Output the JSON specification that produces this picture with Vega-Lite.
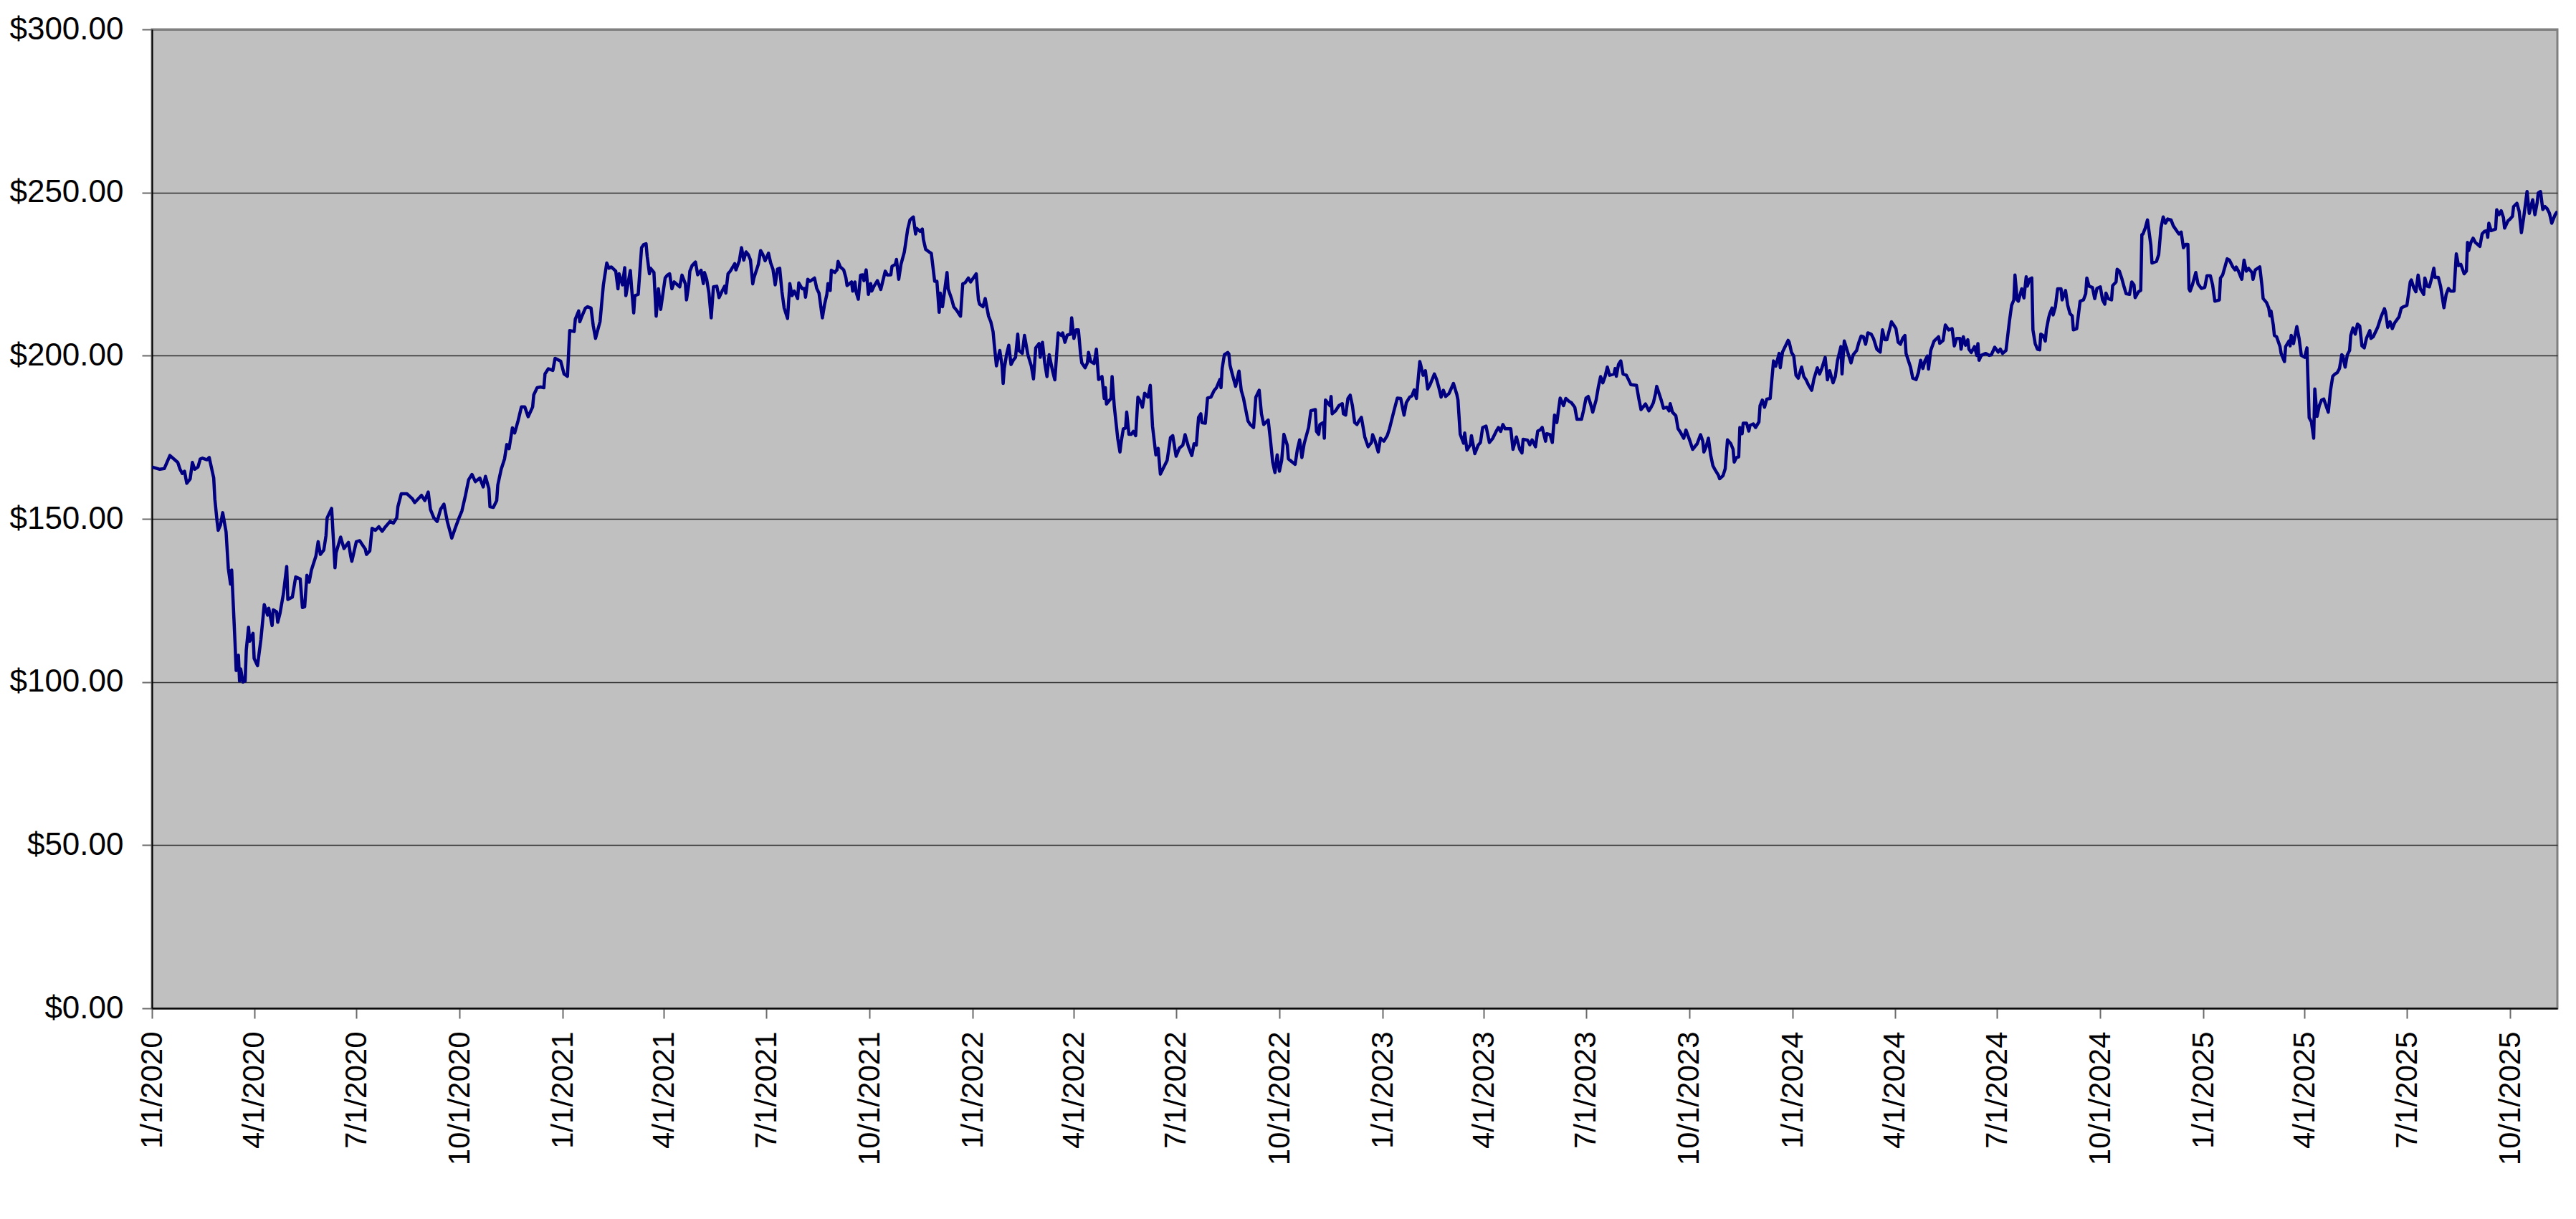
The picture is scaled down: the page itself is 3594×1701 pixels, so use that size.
{
  "$schema": "https://vega.github.io/schema/vega-lite/v6.json",
  "width": 3356,
  "height": 1366,
  "autosize": {"type": "none"},
  "padding": {"left": 212, "top": 41, "right": 26, "bottom": 294},
  "background": "#ffffff",
  "config": {
    "view": {"fill": "#C0C0C0", "stroke": "#808080", "strokeWidth": 3},
    "font": "Liberation Sans"
  },
  "data": {
    "values": [
      {"date": "2020-01-01", "price": 165.9}, {"date": "2020-01-08", "price": 165.2}, {"date": "2020-01-12", "price": 165.4},
      {"date": "2020-01-17", "price": 169.4}, {"date": "2020-01-24", "price": 167.3}, {"date": "2020-01-26", "price": 165.2},
      {"date": "2020-01-28", "price": 163.9}, {"date": "2020-01-30", "price": 164.6}, {"date": "2020-02-01", "price": 160.9},
      {"date": "2020-02-04", "price": 162.2}, {"date": "2020-02-06", "price": 167.3}, {"date": "2020-02-08", "price": 165.2},
      {"date": "2020-02-11", "price": 165.9}, {"date": "2020-02-13", "price": 168.3}, {"date": "2020-02-15", "price": 168.6},
      {"date": "2020-02-19", "price": 168.1}, {"date": "2020-02-21", "price": 168.8}, {"date": "2020-02-25", "price": 162.5},
      {"date": "2020-02-26", "price": 156.1}, {"date": "2020-02-28", "price": 149.2}, {"date": "2020-02-29", "price": 146.5},
      {"date": "2020-03-02", "price": 148.1}, {"date": "2020-03-04", "price": 151.9}, {"date": "2020-03-07", "price": 146.0},
      {"date": "2020-03-09", "price": 134.8}, {"date": "2020-03-11", "price": 130.0}, {"date": "2020-03-12", "price": 134.3},
      {"date": "2020-03-14", "price": 119.4}, {"date": "2020-03-15", "price": 111.9}, {"date": "2020-03-16", "price": 103.5},
      {"date": "2020-03-18", "price": 108.2}, {"date": "2020-03-19", "price": 100.3}, {"date": "2020-03-20", "price": 104.0},
      {"date": "2020-03-22", "price": 100.0}, {"date": "2020-03-24", "price": 100.3}, {"date": "2020-03-25", "price": 109.8},
      {"date": "2020-03-27", "price": 116.8}, {"date": "2020-03-28", "price": 112.5}, {"date": "2020-03-31", "price": 114.9},
      {"date": "2020-04-01", "price": 107.2}, {"date": "2020-04-04", "price": 105.0}, {"date": "2020-04-07", "price": 113.0},
      {"date": "2020-04-10", "price": 123.7}, {"date": "2020-04-13", "price": 120.5}, {"date": "2020-04-14", "price": 122.6},
      {"date": "2020-04-17", "price": 117.3}, {"date": "2020-04-18", "price": 122.1}, {"date": "2020-04-21", "price": 121.5},
      {"date": "2020-04-22", "price": 118.3}, {"date": "2020-04-24", "price": 121.0}, {"date": "2020-04-27", "price": 126.9},
      {"date": "2020-04-30", "price": 135.4}, {"date": "2020-05-01", "price": 125.3}, {"date": "2020-05-05", "price": 126.0},
      {"date": "2020-05-08", "price": 132.2}, {"date": "2020-05-12", "price": 131.6}, {"date": "2020-05-14", "price": 122.8},
      {"date": "2020-05-16", "price": 123.1}, {"date": "2020-05-18", "price": 132.7}, {"date": "2020-05-20", "price": 130.6},
      {"date": "2020-05-22", "price": 134.3}, {"date": "2020-05-26", "price": 138.6}, {"date": "2020-05-28", "price": 143.0},
      {"date": "2020-05-30", "price": 139.1}, {"date": "2020-06-02", "price": 140.4}, {"date": "2020-06-04", "price": 144.9},
      {"date": "2020-06-05", "price": 150.3}, {"date": "2020-06-09", "price": 153.2}, {"date": "2020-06-12", "price": 135.0},
      {"date": "2020-06-13", "price": 139.6}, {"date": "2020-06-17", "price": 144.4}, {"date": "2020-06-20", "price": 140.9},
      {"date": "2020-06-24", "price": 142.8}, {"date": "2020-06-26", "price": 138.6}, {"date": "2020-06-27", "price": 137.0},
      {"date": "2020-07-01", "price": 143.0}, {"date": "2020-07-04", "price": 143.3}, {"date": "2020-07-09", "price": 140.7},
      {"date": "2020-07-10", "price": 139.1}, {"date": "2020-07-13", "price": 140.2}, {"date": "2020-07-15", "price": 147.1},
      {"date": "2020-07-18", "price": 146.5}, {"date": "2020-07-21", "price": 147.6}, {"date": "2020-07-24", "price": 146.2},
      {"date": "2020-07-27", "price": 147.6}, {"date": "2020-07-31", "price": 149.2}, {"date": "2020-08-03", "price": 148.7},
      {"date": "2020-08-06", "price": 150.3}, {"date": "2020-08-07", "price": 153.7}, {"date": "2020-08-10", "price": 157.7},
      {"date": "2020-08-15", "price": 157.7}, {"date": "2020-08-20", "price": 156.1}, {"date": "2020-08-22", "price": 155.0},
      {"date": "2020-08-25", "price": 156.1}, {"date": "2020-08-28", "price": 157.2}, {"date": "2020-08-31", "price": 155.6},
      {"date": "2020-09-03", "price": 158.2}, {"date": "2020-09-05", "price": 152.9}, {"date": "2020-09-08", "price": 150.3},
      {"date": "2020-09-11", "price": 149.2}, {"date": "2020-09-14", "price": 152.9}, {"date": "2020-09-17", "price": 154.5},
      {"date": "2020-09-20", "price": 149.2}, {"date": "2020-09-24", "price": 144.1}, {"date": "2020-09-27", "price": 147.1},
      {"date": "2020-09-30", "price": 149.9}, {"date": "2020-10-03", "price": 152.4}, {"date": "2020-10-06", "price": 156.9},
      {"date": "2020-10-09", "price": 162.0}, {"date": "2020-10-12", "price": 163.6}, {"date": "2020-10-15", "price": 161.4},
      {"date": "2020-10-19", "price": 162.5}, {"date": "2020-10-22", "price": 159.8}, {"date": "2020-10-24", "price": 163.0},
      {"date": "2020-10-27", "price": 159.3}, {"date": "2020-10-28", "price": 153.7}, {"date": "2020-10-31", "price": 153.5},
      {"date": "2020-11-03", "price": 155.6}, {"date": "2020-11-04", "price": 160.4}, {"date": "2020-11-07", "price": 165.2},
      {"date": "2020-11-10", "price": 168.4}, {"date": "2020-11-12", "price": 172.8}, {"date": "2020-11-14", "price": 171.5},
      {"date": "2020-11-17", "price": 177.9}, {"date": "2020-11-19", "price": 176.3}, {"date": "2020-11-22", "price": 180.0},
      {"date": "2020-11-25", "price": 184.3}, {"date": "2020-11-28", "price": 184.3}, {"date": "2020-12-01", "price": 181.3},
      {"date": "2020-12-05", "price": 184.3}, {"date": "2020-12-06", "price": 188.0}, {"date": "2020-12-09", "price": 190.2},
      {"date": "2020-12-12", "price": 190.4}, {"date": "2020-12-15", "price": 190.2}, {"date": "2020-12-16", "price": 194.4},
      {"date": "2020-12-19", "price": 196.0}, {"date": "2020-12-23", "price": 195.5}, {"date": "2020-12-25", "price": 199.2},
      {"date": "2020-12-30", "price": 198.3}, {"date": "2021-01-02", "price": 194.4}, {"date": "2021-01-05", "price": 193.7},
      {"date": "2021-01-07", "price": 207.7}, {"date": "2021-01-11", "price": 207.4}, {"date": "2021-01-12", "price": 211.2},
      {"date": "2021-01-15", "price": 213.7}, {"date": "2021-01-16", "price": 210.4}, {"date": "2021-01-18", "price": 212.2},
      {"date": "2021-01-21", "price": 214.6}, {"date": "2021-01-23", "price": 215.0}, {"date": "2021-01-26", "price": 214.6},
      {"date": "2021-01-28", "price": 209.1}, {"date": "2021-01-30", "price": 205.3}, {"date": "2021-02-01", "price": 207.9},
      {"date": "2021-02-03", "price": 210.4}, {"date": "2021-02-04", "price": 214.2}, {"date": "2021-02-06", "price": 221.7},
      {"date": "2021-02-09", "price": 228.4}, {"date": "2021-02-11", "price": 226.8}, {"date": "2021-02-13", "price": 227.2},
      {"date": "2021-02-17", "price": 225.9}, {"date": "2021-02-19", "price": 220.5}, {"date": "2021-02-20", "price": 225.1},
      {"date": "2021-02-23", "price": 221.7}, {"date": "2021-02-25", "price": 227.0}, {"date": "2021-02-26", "price": 218.4},
      {"date": "2021-03-02", "price": 226.1}, {"date": "2021-03-03", "price": 221.3}, {"date": "2021-03-05", "price": 213.1},
      {"date": "2021-03-06", "price": 218.4}, {"date": "2021-03-09", "price": 218.8}, {"date": "2021-03-12", "price": 233.1},
      {"date": "2021-03-14", "price": 234.1}, {"date": "2021-03-16", "price": 234.3}, {"date": "2021-03-17", "price": 230.5},
      {"date": "2021-03-19", "price": 225.1}, {"date": "2021-03-20", "price": 226.8}, {"date": "2021-03-23", "price": 225.5},
      {"date": "2021-03-25", "price": 212.1}, {"date": "2021-03-27", "price": 220.5}, {"date": "2021-03-29", "price": 214.2},
      {"date": "2021-04-02", "price": 223.8}, {"date": "2021-04-04", "price": 224.7}, {"date": "2021-04-06", "price": 225.1},
      {"date": "2021-04-08", "price": 220.5}, {"date": "2021-04-10", "price": 222.6}, {"date": "2021-04-15", "price": 221.1},
      {"date": "2021-04-17", "price": 224.7}, {"date": "2021-04-20", "price": 222.0}, {"date": "2021-04-21", "price": 217.1},
      {"date": "2021-04-23", "price": 221.7}, {"date": "2021-04-24", "price": 225.9}, {"date": "2021-04-26", "price": 227.6},
      {"date": "2021-04-29", "price": 228.7}, {"date": "2021-05-01", "price": 224.8}, {"date": "2021-05-04", "price": 226.2},
      {"date": "2021-05-06", "price": 222.1}, {"date": "2021-05-07", "price": 225.5}, {"date": "2021-05-09", "price": 223.4},
      {"date": "2021-05-11", "price": 219.2}, {"date": "2021-05-13", "price": 211.6}, {"date": "2021-05-15", "price": 221.1},
      {"date": "2021-05-18", "price": 221.3}, {"date": "2021-05-20", "price": 217.8}, {"date": "2021-05-23", "price": 220.0},
      {"date": "2021-05-25", "price": 221.3}, {"date": "2021-05-26", "price": 219.2}, {"date": "2021-05-28", "price": 225.1},
      {"date": "2021-05-30", "price": 225.9}, {"date": "2021-06-03", "price": 228.2}, {"date": "2021-06-04", "price": 226.3},
      {"date": "2021-06-07", "price": 229.0}, {"date": "2021-06-09", "price": 233.1}, {"date": "2021-06-11", "price": 229.3},
      {"date": "2021-06-13", "price": 231.8}, {"date": "2021-06-15", "price": 231.0}, {"date": "2021-06-17", "price": 229.3},
      {"date": "2021-06-19", "price": 222.0}, {"date": "2021-06-20", "price": 223.8}, {"date": "2021-06-24", "price": 228.0},
      {"date": "2021-06-26", "price": 232.2}, {"date": "2021-06-28", "price": 231.0}, {"date": "2021-06-30", "price": 229.1},
      {"date": "2021-07-03", "price": 231.4}, {"date": "2021-07-05", "price": 228.4}, {"date": "2021-07-07", "price": 226.5},
      {"date": "2021-07-09", "price": 221.7}, {"date": "2021-07-11", "price": 226.5}, {"date": "2021-07-13", "price": 226.8},
      {"date": "2021-07-15", "price": 219.6}, {"date": "2021-07-17", "price": 214.6}, {"date": "2021-07-20", "price": 211.4},
      {"date": "2021-07-22", "price": 222.1}, {"date": "2021-07-24", "price": 218.4}, {"date": "2021-07-26", "price": 219.8},
      {"date": "2021-07-29", "price": 217.5}, {"date": "2021-07-30", "price": 222.3}, {"date": "2021-08-02", "price": 220.5},
      {"date": "2021-08-04", "price": 220.6}, {"date": "2021-08-05", "price": 217.9}, {"date": "2021-08-07", "price": 223.4},
      {"date": "2021-08-09", "price": 222.8}, {"date": "2021-08-13", "price": 223.8}, {"date": "2021-08-15", "price": 220.6},
      {"date": "2021-08-17", "price": 219.2}, {"date": "2021-08-20", "price": 211.6}, {"date": "2021-08-22", "price": 215.8},
      {"date": "2021-08-24", "price": 218.8}, {"date": "2021-08-25", "price": 222.1}, {"date": "2021-08-27", "price": 220.0},
      {"date": "2021-08-28", "price": 226.2}, {"date": "2021-08-31", "price": 225.5}, {"date": "2021-09-02", "price": 226.3},
      {"date": "2021-09-03", "price": 228.9}, {"date": "2021-09-05", "price": 227.2}, {"date": "2021-09-08", "price": 226.3},
      {"date": "2021-09-10", "price": 223.8}, {"date": "2021-09-11", "price": 221.5}, {"date": "2021-09-15", "price": 222.6},
      {"date": "2021-09-16", "price": 219.8}, {"date": "2021-09-18", "price": 222.6}, {"date": "2021-09-19", "price": 219.6},
      {"date": "2021-09-21", "price": 217.3}, {"date": "2021-09-23", "price": 224.7}, {"date": "2021-09-25", "price": 224.8},
      {"date": "2021-09-26", "price": 223.0}, {"date": "2021-09-28", "price": 226.3}, {"date": "2021-09-30", "price": 218.8},
      {"date": "2021-10-02", "price": 222.1}, {"date": "2021-10-03", "price": 219.8}, {"date": "2021-10-05", "price": 221.3},
      {"date": "2021-10-08", "price": 223.0}, {"date": "2021-10-11", "price": 220.3}, {"date": "2021-10-15", "price": 225.9},
      {"date": "2021-10-17", "price": 224.7}, {"date": "2021-10-20", "price": 224.8}, {"date": "2021-10-21", "price": 227.4},
      {"date": "2021-10-24", "price": 228.0}, {"date": "2021-10-25", "price": 229.5}, {"date": "2021-10-27", "price": 223.4},
      {"date": "2021-10-29", "price": 228.0}, {"date": "2021-11-01", "price": 231.8}, {"date": "2021-11-02", "price": 234.1},
      {"date": "2021-11-04", "price": 238.8}, {"date": "2021-11-06", "price": 241.6}, {"date": "2021-11-09", "price": 242.5},
      {"date": "2021-11-11", "price": 237.3}, {"date": "2021-11-12", "price": 239.0}, {"date": "2021-11-15", "price": 238.1},
      {"date": "2021-11-17", "price": 238.8}, {"date": "2021-11-18", "price": 235.6}, {"date": "2021-11-20", "price": 232.6},
      {"date": "2021-11-23", "price": 231.8}, {"date": "2021-11-25", "price": 231.4}, {"date": "2021-11-28", "price": 222.8},
      {"date": "2021-11-30", "price": 222.8}, {"date": "2021-12-02", "price": 213.3}, {"date": "2021-12-03", "price": 219.2},
      {"date": "2021-12-05", "price": 215.0}, {"date": "2021-12-09", "price": 225.5}, {"date": "2021-12-10", "price": 220.5},
      {"date": "2021-12-13", "price": 217.5}, {"date": "2021-12-15", "price": 215.0}, {"date": "2021-12-18", "price": 213.7},
      {"date": "2021-12-21", "price": 212.1}, {"date": "2021-12-23", "price": 222.0}, {"date": "2021-12-25", "price": 222.3},
      {"date": "2021-12-28", "price": 223.8}, {"date": "2021-12-30", "price": 222.6}, {"date": "2022-01-04", "price": 225.1},
      {"date": "2022-01-06", "price": 217.1}, {"date": "2022-01-07", "price": 215.8}, {"date": "2022-01-10", "price": 215.0},
      {"date": "2022-01-12", "price": 217.5}, {"date": "2022-01-15", "price": 212.1}, {"date": "2022-01-17", "price": 210.4},
      {"date": "2022-01-19", "price": 207.4}, {"date": "2022-01-20", "price": 203.7}, {"date": "2022-01-22", "price": 196.9},
      {"date": "2022-01-23", "price": 198.6}, {"date": "2022-01-25", "price": 201.6}, {"date": "2022-01-27", "price": 196.9},
      {"date": "2022-01-28", "price": 191.5}, {"date": "2022-01-29", "price": 196.1}, {"date": "2022-01-31", "price": 200.3},
      {"date": "2022-02-02", "price": 203.2}, {"date": "2022-02-04", "price": 197.3}, {"date": "2022-02-06", "price": 198.6},
      {"date": "2022-02-08", "price": 199.5}, {"date": "2022-02-10", "price": 206.6}, {"date": "2022-02-11", "price": 201.6},
      {"date": "2022-02-14", "price": 200.7}, {"date": "2022-02-16", "price": 206.2}, {"date": "2022-02-19", "price": 200.3},
      {"date": "2022-02-22", "price": 196.9}, {"date": "2022-02-24", "price": 192.9}, {"date": "2022-02-26", "price": 202.4},
      {"date": "2022-03-01", "price": 203.7}, {"date": "2022-03-02", "price": 199.5}, {"date": "2022-03-04", "price": 204.1},
      {"date": "2022-03-06", "price": 197.8}, {"date": "2022-03-08", "price": 193.6}, {"date": "2022-03-10", "price": 200.3},
      {"date": "2022-03-13", "price": 195.3}, {"date": "2022-03-15", "price": 192.6}, {"date": "2022-03-18", "price": 207.0},
      {"date": "2022-03-21", "price": 206.2}, {"date": "2022-03-22", "price": 207.0}, {"date": "2022-03-24", "price": 204.1},
      {"date": "2022-03-26", "price": 206.3}, {"date": "2022-03-29", "price": 206.6}, {"date": "2022-03-30", "price": 211.6},
      {"date": "2022-04-01", "price": 205.3}, {"date": "2022-04-03", "price": 207.9}, {"date": "2022-04-05", "price": 207.9},
      {"date": "2022-04-07", "price": 200.3}, {"date": "2022-04-08", "price": 197.8}, {"date": "2022-04-11", "price": 196.3},
      {"date": "2022-04-13", "price": 197.8}, {"date": "2022-04-14", "price": 201.0}, {"date": "2022-04-16", "price": 198.2},
      {"date": "2022-04-19", "price": 197.6}, {"date": "2022-04-21", "price": 202.0}, {"date": "2022-04-23", "price": 192.7},
      {"date": "2022-04-26", "price": 193.6}, {"date": "2022-04-28", "price": 186.9}, {"date": "2022-04-29", "price": 190.2},
      {"date": "2022-04-30", "price": 185.2}, {"date": "2022-05-04", "price": 186.9}, {"date": "2022-05-05", "price": 193.6},
      {"date": "2022-05-07", "price": 184.3}, {"date": "2022-05-10", "price": 174.7}, {"date": "2022-05-12", "price": 170.5},
      {"date": "2022-05-13", "price": 173.4}, {"date": "2022-05-15", "price": 177.6}, {"date": "2022-05-17", "price": 177.8},
      {"date": "2022-05-18", "price": 182.7}, {"date": "2022-05-20", "price": 175.9}, {"date": "2022-05-22", "price": 175.9},
      {"date": "2022-05-24", "price": 176.8}, {"date": "2022-05-26", "price": 175.5}, {"date": "2022-05-28", "price": 187.3},
      {"date": "2022-05-30", "price": 186.2}, {"date": "2022-06-01", "price": 184.2}, {"date": "2022-06-03", "price": 188.5},
      {"date": "2022-06-06", "price": 187.3}, {"date": "2022-06-08", "price": 190.9}, {"date": "2022-06-10", "price": 178.4},
      {"date": "2022-06-13", "price": 169.6}, {"date": "2022-06-15", "price": 171.6}, {"date": "2022-06-17", "price": 163.7},
      {"date": "2022-06-20", "price": 165.8}, {"date": "2022-06-23", "price": 167.9}, {"date": "2022-06-26", "price": 174.9},
      {"date": "2022-06-28", "price": 175.5}, {"date": "2022-07-01", "price": 169.2}, {"date": "2022-07-04", "price": 171.7},
      {"date": "2022-07-07", "price": 172.6}, {"date": "2022-07-09", "price": 175.8}, {"date": "2022-07-12", "price": 172.1},
      {"date": "2022-07-15", "price": 169.4}, {"date": "2022-07-17", "price": 173.0}, {"date": "2022-07-19", "price": 172.6},
      {"date": "2022-07-21", "price": 181.1}, {"date": "2022-07-23", "price": 182.2}, {"date": "2022-07-24", "price": 179.5},
      {"date": "2022-07-27", "price": 179.3}, {"date": "2022-07-29", "price": 187.0}, {"date": "2022-08-01", "price": 187.3},
      {"date": "2022-08-04", "price": 189.4}, {"date": "2022-08-06", "price": 190.2}, {"date": "2022-08-09", "price": 192.7},
      {"date": "2022-08-10", "price": 190.2}, {"date": "2022-08-11", "price": 196.1}, {"date": "2022-08-13", "price": 200.3},
      {"date": "2022-08-16", "price": 201.0}, {"date": "2022-08-17", "price": 200.5}, {"date": "2022-08-18", "price": 197.1},
      {"date": "2022-08-20", "price": 194.4}, {"date": "2022-08-23", "price": 190.6}, {"date": "2022-08-26", "price": 195.3},
      {"date": "2022-08-28", "price": 189.4}, {"date": "2022-08-30", "price": 187.0}, {"date": "2022-08-31", "price": 185.2},
      {"date": "2022-09-03", "price": 180.0}, {"date": "2022-09-05", "price": 178.9}, {"date": "2022-09-08", "price": 178.0},
      {"date": "2022-09-10", "price": 187.3}, {"date": "2022-09-13", "price": 189.4}, {"date": "2022-09-15", "price": 182.2},
      {"date": "2022-09-17", "price": 178.9}, {"date": "2022-09-21", "price": 180.3}, {"date": "2022-09-23", "price": 174.2},
      {"date": "2022-09-25", "price": 167.4}, {"date": "2022-09-27", "price": 164.2}, {"date": "2022-09-29", "price": 169.6},
      {"date": "2022-10-01", "price": 164.6}, {"date": "2022-10-03", "price": 167.9}, {"date": "2022-10-05", "price": 175.9},
      {"date": "2022-10-08", "price": 172.6}, {"date": "2022-10-09", "price": 168.4}, {"date": "2022-10-12", "price": 167.5},
      {"date": "2022-10-15", "price": 166.7}, {"date": "2022-10-17", "price": 171.3}, {"date": "2022-10-19", "price": 174.2},
      {"date": "2022-10-21", "price": 168.8}, {"date": "2022-10-23", "price": 173.0}, {"date": "2022-10-27", "price": 178.0},
      {"date": "2022-10-29", "price": 183.1}, {"date": "2022-11-02", "price": 183.5}, {"date": "2022-11-03", "price": 176.8},
      {"date": "2022-11-05", "price": 175.9}, {"date": "2022-11-06", "price": 178.9}, {"date": "2022-11-09", "price": 179.5},
      {"date": "2022-11-10", "price": 174.7}, {"date": "2022-11-11", "price": 186.4}, {"date": "2022-11-15", "price": 184.7},
      {"date": "2022-11-16", "price": 187.5}, {"date": "2022-11-17", "price": 182.2}, {"date": "2022-11-20", "price": 183.1},
      {"date": "2022-11-23", "price": 184.7}, {"date": "2022-11-26", "price": 185.3}, {"date": "2022-11-27", "price": 182.2},
      {"date": "2022-11-29", "price": 181.8}, {"date": "2022-12-01", "price": 186.9}, {"date": "2022-12-03", "price": 187.9},
      {"date": "2022-12-05", "price": 184.7}, {"date": "2022-12-07", "price": 179.5}, {"date": "2022-12-09", "price": 178.9},
      {"date": "2022-12-11", "price": 180.1}, {"date": "2022-12-13", "price": 181.1}, {"date": "2022-12-16", "price": 175.1},
      {"date": "2022-12-19", "price": 172.1}, {"date": "2022-12-22", "price": 173.4}, {"date": "2022-12-23", "price": 175.8},
      {"date": "2022-12-25", "price": 174.1}, {"date": "2022-12-28", "price": 170.5}, {"date": "2022-12-30", "price": 174.7},
      {"date": "2023-01-02", "price": 173.8}, {"date": "2023-01-05", "price": 175.5}, {"date": "2023-01-07", "price": 177.6},
      {"date": "2023-01-11", "price": 183.1}, {"date": "2023-01-14", "price": 187.0}, {"date": "2023-01-17", "price": 186.9},
      {"date": "2023-01-20", "price": 181.8}, {"date": "2023-01-22", "price": 185.6}, {"date": "2023-01-25", "price": 187.3},
      {"date": "2023-01-27", "price": 187.7}, {"date": "2023-01-29", "price": 189.5}, {"date": "2023-01-31", "price": 186.9},
      {"date": "2023-02-03", "price": 198.2}, {"date": "2023-02-04", "price": 196.9}, {"date": "2023-02-06", "price": 194.0},
      {"date": "2023-02-08", "price": 195.4}, {"date": "2023-02-10", "price": 189.8}, {"date": "2023-02-12", "price": 191.0},
      {"date": "2023-02-14", "price": 192.7}, {"date": "2023-02-16", "price": 194.4}, {"date": "2023-02-18", "price": 192.7},
      {"date": "2023-02-20", "price": 190.2}, {"date": "2023-02-22", "price": 187.3}, {"date": "2023-02-24", "price": 189.4},
      {"date": "2023-02-26", "price": 187.5}, {"date": "2023-03-01", "price": 188.4}, {"date": "2023-03-05", "price": 191.5},
      {"date": "2023-03-08", "price": 188.1}, {"date": "2023-03-09", "price": 186.4}, {"date": "2023-03-11", "price": 175.9},
      {"date": "2023-03-14", "price": 173.2}, {"date": "2023-03-15", "price": 176.3}, {"date": "2023-03-17", "price": 171.1},
      {"date": "2023-03-20", "price": 172.7}, {"date": "2023-03-21", "price": 175.5}, {"date": "2023-03-24", "price": 170.0},
      {"date": "2023-03-27", "price": 172.6}, {"date": "2023-03-29", "price": 173.4}, {"date": "2023-03-31", "price": 178.0},
      {"date": "2023-04-03", "price": 178.4}, {"date": "2023-04-06", "price": 173.4}, {"date": "2023-04-09", "price": 174.7},
      {"date": "2023-04-12", "price": 176.8}, {"date": "2023-04-14", "price": 178.0}, {"date": "2023-04-16", "price": 176.8},
      {"date": "2023-04-18", "price": 178.9}, {"date": "2023-04-20", "price": 177.6}, {"date": "2023-04-25", "price": 177.6},
      {"date": "2023-04-27", "price": 171.3}, {"date": "2023-04-30", "price": 175.1}, {"date": "2023-05-03", "price": 171.3},
      {"date": "2023-05-05", "price": 170.2}, {"date": "2023-05-06", "price": 174.4}, {"date": "2023-05-10", "price": 174.1},
      {"date": "2023-05-12", "price": 172.7}, {"date": "2023-05-14", "price": 174.2}, {"date": "2023-05-17", "price": 172.1},
      {"date": "2023-05-19", "price": 176.9}, {"date": "2023-05-21", "price": 177.2}, {"date": "2023-05-23", "price": 178.0},
      {"date": "2023-05-26", "price": 173.8}, {"date": "2023-05-27", "price": 176.1}, {"date": "2023-05-30", "price": 175.8},
      {"date": "2023-06-01", "price": 173.4}, {"date": "2023-06-03", "price": 181.8}, {"date": "2023-06-05", "price": 179.5},
      {"date": "2023-06-08", "price": 187.0}, {"date": "2023-06-11", "price": 184.7}, {"date": "2023-06-13", "price": 186.9},
      {"date": "2023-06-16", "price": 186.0}, {"date": "2023-06-18", "price": 185.6}, {"date": "2023-06-21", "price": 184.2},
      {"date": "2023-06-23", "price": 180.5}, {"date": "2023-06-27", "price": 180.5}, {"date": "2023-06-29", "price": 183.5},
      {"date": "2023-07-01", "price": 187.0}, {"date": "2023-07-03", "price": 187.5}, {"date": "2023-07-05", "price": 185.3},
      {"date": "2023-07-07", "price": 182.7}, {"date": "2023-07-10", "price": 186.4}, {"date": "2023-07-12", "price": 190.4},
      {"date": "2023-07-14", "price": 193.6}, {"date": "2023-07-16", "price": 191.7}, {"date": "2023-07-18", "price": 193.6},
      {"date": "2023-07-20", "price": 196.5}, {"date": "2023-07-22", "price": 194.0}, {"date": "2023-07-26", "price": 194.4},
      {"date": "2023-07-27", "price": 196.1}, {"date": "2023-07-28", "price": 193.7}, {"date": "2023-07-30", "price": 197.4},
      {"date": "2023-08-01", "price": 198.4}, {"date": "2023-08-03", "price": 194.4}, {"date": "2023-08-06", "price": 194.0},
      {"date": "2023-08-10", "price": 191.1}, {"date": "2023-08-15", "price": 190.9}, {"date": "2023-08-17", "price": 186.9},
      {"date": "2023-08-19", "price": 183.5}, {"date": "2023-08-23", "price": 185.2}, {"date": "2023-08-26", "price": 183.1},
      {"date": "2023-08-28", "price": 184.2}, {"date": "2023-08-30", "price": 185.6}, {"date": "2023-09-01", "price": 188.5},
      {"date": "2023-09-02", "price": 190.6}, {"date": "2023-09-04", "price": 188.5}, {"date": "2023-09-06", "price": 186.4},
      {"date": "2023-09-08", "price": 183.9}, {"date": "2023-09-11", "price": 184.2}, {"date": "2023-09-13", "price": 183.1},
      {"date": "2023-09-14", "price": 185.3}, {"date": "2023-09-16", "price": 182.7}, {"date": "2023-09-19", "price": 181.6},
      {"date": "2023-09-21", "price": 177.6}, {"date": "2023-09-23", "price": 176.6}, {"date": "2023-09-26", "price": 174.7},
      {"date": "2023-09-28", "price": 177.2}, {"date": "2023-10-01", "price": 174.4}, {"date": "2023-10-02", "price": 173.4},
      {"date": "2023-10-04", "price": 171.3}, {"date": "2023-10-08", "price": 173.0}, {"date": "2023-10-11", "price": 175.8},
      {"date": "2023-10-13", "price": 173.8}, {"date": "2023-10-14", "price": 170.5}, {"date": "2023-10-16", "price": 172.1},
      {"date": "2023-10-18", "price": 174.7}, {"date": "2023-10-20", "price": 169.6}, {"date": "2023-10-22", "price": 166.3},
      {"date": "2023-10-24", "price": 165.0}, {"date": "2023-10-27", "price": 163.3}, {"date": "2023-10-28", "price": 162.3},
      {"date": "2023-10-31", "price": 163.2}, {"date": "2023-11-02", "price": 165.4}, {"date": "2023-11-04", "price": 174.2},
      {"date": "2023-11-07", "price": 173.0}, {"date": "2023-11-09", "price": 171.3}, {"date": "2023-11-10", "price": 167.4},
      {"date": "2023-11-12", "price": 168.8}, {"date": "2023-11-14", "price": 169.0}, {"date": "2023-11-15", "price": 178.0},
      {"date": "2023-11-17", "price": 176.1}, {"date": "2023-11-18", "price": 179.3}, {"date": "2023-11-21", "price": 179.3},
      {"date": "2023-11-23", "price": 176.9}, {"date": "2023-11-24", "price": 178.6}, {"date": "2023-11-27", "price": 179.1},
      {"date": "2023-11-29", "price": 178.0}, {"date": "2023-12-02", "price": 179.7}, {"date": "2023-12-03", "price": 184.7},
      {"date": "2023-12-05", "price": 186.4}, {"date": "2023-12-07", "price": 184.2}, {"date": "2023-12-09", "price": 186.7},
      {"date": "2023-12-12", "price": 186.9}, {"date": "2023-12-15", "price": 198.4}, {"date": "2023-12-17", "price": 196.8},
      {"date": "2023-12-20", "price": 200.7}, {"date": "2023-12-21", "price": 196.3}, {"date": "2023-12-23", "price": 201.1},
      {"date": "2023-12-28", "price": 204.7}, {"date": "2023-12-29", "price": 204.1}, {"date": "2023-12-31", "price": 201.0},
      {"date": "2024-01-02", "price": 199.9}, {"date": "2024-01-04", "price": 194.0}, {"date": "2024-01-06", "price": 193.1},
      {"date": "2024-01-09", "price": 196.5}, {"date": "2024-01-11", "price": 193.6}, {"date": "2024-01-13", "price": 192.6},
      {"date": "2024-01-15", "price": 191.1}, {"date": "2024-01-18", "price": 189.4}, {"date": "2024-01-20", "price": 192.9},
      {"date": "2024-01-23", "price": 196.3}, {"date": "2024-01-25", "price": 194.4}, {"date": "2024-01-27", "price": 196.1},
      {"date": "2024-01-30", "price": 199.5}, {"date": "2024-02-01", "price": 192.6}, {"date": "2024-02-03", "price": 195.4},
      {"date": "2024-02-06", "price": 191.7}, {"date": "2024-02-08", "price": 193.6}, {"date": "2024-02-10", "price": 198.6},
      {"date": "2024-02-13", "price": 202.8}, {"date": "2024-02-14", "price": 194.4}, {"date": "2024-02-16", "price": 204.5},
      {"date": "2024-02-19", "price": 201.1}, {"date": "2024-02-22", "price": 197.8}, {"date": "2024-02-24", "price": 200.3},
      {"date": "2024-02-27", "price": 201.6}, {"date": "2024-02-29", "price": 204.1}, {"date": "2024-03-02", "price": 206.0},
      {"date": "2024-03-04", "price": 205.8}, {"date": "2024-03-06", "price": 203.5}, {"date": "2024-03-08", "price": 207.0},
      {"date": "2024-03-11", "price": 206.6}, {"date": "2024-03-13", "price": 205.3}, {"date": "2024-03-16", "price": 202.0},
      {"date": "2024-03-19", "price": 201.1}, {"date": "2024-03-21", "price": 207.9}, {"date": "2024-03-23", "price": 204.9},
      {"date": "2024-03-25", "price": 204.9}, {"date": "2024-03-29", "price": 210.4}, {"date": "2024-03-31", "price": 209.4},
      {"date": "2024-04-02", "price": 208.3}, {"date": "2024-04-04", "price": 204.1}, {"date": "2024-04-06", "price": 203.5},
      {"date": "2024-04-08", "price": 205.3}, {"date": "2024-04-10", "price": 206.2}, {"date": "2024-04-11", "price": 200.7},
      {"date": "2024-04-13", "price": 198.6}, {"date": "2024-04-15", "price": 196.5}, {"date": "2024-04-17", "price": 193.1},
      {"date": "2024-04-20", "price": 192.7}, {"date": "2024-04-22", "price": 194.8}, {"date": "2024-04-24", "price": 198.6},
      {"date": "2024-04-26", "price": 196.1}, {"date": "2024-04-28", "price": 198.6}, {"date": "2024-04-30", "price": 199.9},
      {"date": "2024-05-01", "price": 195.9}, {"date": "2024-05-03", "price": 201.6}, {"date": "2024-05-06", "price": 204.5},
      {"date": "2024-05-10", "price": 205.8}, {"date": "2024-05-11", "price": 203.8}, {"date": "2024-05-14", "price": 204.7},
      {"date": "2024-05-16", "price": 209.4}, {"date": "2024-05-19", "price": 207.9}, {"date": "2024-05-22", "price": 208.3},
      {"date": "2024-05-24", "price": 203.0}, {"date": "2024-05-26", "price": 205.3}, {"date": "2024-05-29", "price": 205.3},
      {"date": "2024-05-30", "price": 202.0}, {"date": "2024-06-01", "price": 205.8}, {"date": "2024-06-03", "price": 203.2},
      {"date": "2024-06-05", "price": 204.9}, {"date": "2024-06-06", "price": 202.0}, {"date": "2024-06-08", "price": 201.0},
      {"date": "2024-06-11", "price": 202.8}, {"date": "2024-06-13", "price": 200.1}, {"date": "2024-06-14", "price": 203.7},
      {"date": "2024-06-15", "price": 198.6}, {"date": "2024-06-17", "price": 200.1}, {"date": "2024-06-21", "price": 200.7},
      {"date": "2024-06-24", "price": 200.1}, {"date": "2024-06-26", "price": 200.3}, {"date": "2024-06-29", "price": 202.6},
      {"date": "2024-07-02", "price": 201.1}, {"date": "2024-07-04", "price": 202.0}, {"date": "2024-07-06", "price": 200.7},
      {"date": "2024-07-09", "price": 201.6}, {"date": "2024-07-12", "price": 210.4}, {"date": "2024-07-14", "price": 215.4},
      {"date": "2024-07-16", "price": 217.1}, {"date": "2024-07-17", "price": 224.7}, {"date": "2024-07-19", "price": 217.1},
      {"date": "2024-07-20", "price": 216.7}, {"date": "2024-07-23", "price": 220.5}, {"date": "2024-07-25", "price": 217.7},
      {"date": "2024-07-27", "price": 224.2}, {"date": "2024-07-28", "price": 221.3}, {"date": "2024-07-30", "price": 223.4},
      {"date": "2024-08-01", "price": 223.8}, {"date": "2024-08-02", "price": 207.9}, {"date": "2024-08-04", "price": 203.7},
      {"date": "2024-08-06", "price": 202.0}, {"date": "2024-08-08", "price": 201.8}, {"date": "2024-08-09", "price": 206.6},
      {"date": "2024-08-11", "price": 206.2}, {"date": "2024-08-13", "price": 204.5}, {"date": "2024-08-14", "price": 208.0},
      {"date": "2024-08-16", "price": 211.6}, {"date": "2024-08-17", "price": 212.9}, {"date": "2024-08-19", "price": 214.6},
      {"date": "2024-08-20", "price": 212.5}, {"date": "2024-08-22", "price": 215.0}, {"date": "2024-08-24", "price": 220.5},
      {"date": "2024-08-27", "price": 220.5}, {"date": "2024-08-28", "price": 217.1}, {"date": "2024-08-31", "price": 220.0},
      {"date": "2024-09-02", "price": 215.4}, {"date": "2024-09-04", "price": 212.9}, {"date": "2024-09-06", "price": 212.2},
      {"date": "2024-09-07", "price": 207.9}, {"date": "2024-09-10", "price": 208.3}, {"date": "2024-09-13", "price": 216.7},
      {"date": "2024-09-16", "price": 217.1}, {"date": "2024-09-18", "price": 219.0}, {"date": "2024-09-19", "price": 223.8},
      {"date": "2024-09-21", "price": 221.3}, {"date": "2024-09-24", "price": 220.9}, {"date": "2024-09-26", "price": 217.5},
      {"date": "2024-09-28", "price": 220.6}, {"date": "2024-10-01", "price": 221.1}, {"date": "2024-10-03", "price": 217.1},
      {"date": "2024-10-05", "price": 215.8}, {"date": "2024-10-06", "price": 219.2}, {"date": "2024-10-08", "price": 217.5},
      {"date": "2024-10-11", "price": 217.1}, {"date": "2024-10-12", "price": 221.5}, {"date": "2024-10-15", "price": 222.6},
      {"date": "2024-10-16", "price": 226.5}, {"date": "2024-10-18", "price": 225.9}, {"date": "2024-10-20", "price": 223.8},
      {"date": "2024-10-22", "price": 221.3}, {"date": "2024-10-24", "price": 219.0}, {"date": "2024-10-27", "price": 218.8},
      {"date": "2024-10-29", "price": 222.6}, {"date": "2024-10-31", "price": 221.7}, {"date": "2024-11-01", "price": 217.8},
      {"date": "2024-11-04", "price": 219.6}, {"date": "2024-11-06", "price": 220.0}, {"date": "2024-11-07", "price": 237.1},
      {"date": "2024-11-08", "price": 237.3}, {"date": "2024-11-10", "price": 239.1}, {"date": "2024-11-12", "price": 241.6},
      {"date": "2024-11-15", "price": 233.9}, {"date": "2024-11-16", "price": 228.4}, {"date": "2024-11-20", "price": 228.9},
      {"date": "2024-11-22", "price": 231.0}, {"date": "2024-11-24", "price": 239.1}, {"date": "2024-11-26", "price": 242.5},
      {"date": "2024-11-28", "price": 240.6}, {"date": "2024-11-30", "price": 241.9}, {"date": "2024-12-03", "price": 241.6},
      {"date": "2024-12-05", "price": 239.8}, {"date": "2024-12-07", "price": 238.8}, {"date": "2024-12-10", "price": 237.3},
      {"date": "2024-12-12", "price": 237.9}, {"date": "2024-12-14", "price": 233.1}, {"date": "2024-12-16", "price": 234.1},
      {"date": "2024-12-18", "price": 234.1}, {"date": "2024-12-19", "price": 220.5}, {"date": "2024-12-20", "price": 219.8},
      {"date": "2024-12-22", "price": 221.7}, {"date": "2024-12-25", "price": 225.5}, {"date": "2024-12-27", "price": 222.0},
      {"date": "2024-12-30", "price": 220.6}, {"date": "2025-01-02", "price": 220.9}, {"date": "2025-01-04", "price": 224.5},
      {"date": "2025-01-07", "price": 224.5}, {"date": "2025-01-09", "price": 221.7}, {"date": "2025-01-11", "price": 216.7},
      {"date": "2025-01-15", "price": 217.1}, {"date": "2025-01-16", "price": 223.8}, {"date": "2025-01-18", "price": 224.8},
      {"date": "2025-01-22", "price": 229.7}, {"date": "2025-01-24", "price": 229.3}, {"date": "2025-01-27", "price": 227.2},
      {"date": "2025-01-29", "price": 226.3}, {"date": "2025-01-30", "price": 227.2}, {"date": "2025-02-01", "price": 225.9},
      {"date": "2025-02-03", "price": 224.2}, {"date": "2025-02-04", "price": 223.4}, {"date": "2025-02-06", "price": 229.3},
      {"date": "2025-02-08", "price": 225.9}, {"date": "2025-02-10", "price": 226.8}, {"date": "2025-02-13", "price": 225.5},
      {"date": "2025-02-14", "price": 223.4}, {"date": "2025-02-16", "price": 226.3}, {"date": "2025-02-20", "price": 227.2},
      {"date": "2025-02-22", "price": 221.3}, {"date": "2025-02-23", "price": 217.5}, {"date": "2025-02-26", "price": 216.3},
      {"date": "2025-02-28", "price": 214.6}, {"date": "2025-03-01", "price": 212.2}, {"date": "2025-03-02", "price": 213.7},
      {"date": "2025-03-04", "price": 209.5}, {"date": "2025-03-05", "price": 206.2}, {"date": "2025-03-07", "price": 205.8},
      {"date": "2025-03-10", "price": 202.8}, {"date": "2025-03-11", "price": 200.7}, {"date": "2025-03-14", "price": 198.2},
      {"date": "2025-03-15", "price": 202.8}, {"date": "2025-03-18", "price": 204.5}, {"date": "2025-03-19", "price": 203.0},
      {"date": "2025-03-20", "price": 206.2}, {"date": "2025-03-22", "price": 203.7}, {"date": "2025-03-25", "price": 208.9},
      {"date": "2025-03-27", "price": 205.3}, {"date": "2025-03-29", "price": 200.1}, {"date": "2025-04-01", "price": 199.5},
      {"date": "2025-04-03", "price": 202.4}, {"date": "2025-04-05", "price": 181.0}, {"date": "2025-04-07", "price": 179.7},
      {"date": "2025-04-09", "price": 174.7}, {"date": "2025-04-10", "price": 189.8}, {"date": "2025-04-12", "price": 181.4},
      {"date": "2025-04-14", "price": 184.7}, {"date": "2025-04-16", "price": 186.4}, {"date": "2025-04-18", "price": 186.7},
      {"date": "2025-04-20", "price": 184.7}, {"date": "2025-04-22", "price": 182.7}, {"date": "2025-04-24", "price": 189.4},
      {"date": "2025-04-26", "price": 193.7}, {"date": "2025-04-28", "price": 194.4}, {"date": "2025-04-30", "price": 194.8},
      {"date": "2025-05-02", "price": 196.1}, {"date": "2025-05-04", "price": 200.3}, {"date": "2025-05-05", "price": 199.9},
      {"date": "2025-05-07", "price": 196.5}, {"date": "2025-05-09", "price": 200.3}, {"date": "2025-05-11", "price": 201.6},
      {"date": "2025-05-12", "price": 206.2}, {"date": "2025-05-14", "price": 208.5}, {"date": "2025-05-16", "price": 206.6},
      {"date": "2025-05-18", "price": 209.7}, {"date": "2025-05-20", "price": 209.1}, {"date": "2025-05-22", "price": 203.0},
      {"date": "2025-05-24", "price": 202.4}, {"date": "2025-05-26", "price": 205.3}, {"date": "2025-05-29", "price": 207.7},
      {"date": "2025-05-30", "price": 205.3}, {"date": "2025-06-01", "price": 205.8}, {"date": "2025-06-05", "price": 208.7},
      {"date": "2025-06-08", "price": 211.9}, {"date": "2025-06-11", "price": 214.4}, {"date": "2025-06-12", "price": 213.3},
      {"date": "2025-06-14", "price": 208.7}, {"date": "2025-06-16", "price": 210.4}, {"date": "2025-06-18", "price": 208.3},
      {"date": "2025-06-20", "price": 210.0}, {"date": "2025-06-24", "price": 211.9}, {"date": "2025-06-26", "price": 214.6},
      {"date": "2025-06-28", "price": 215.0}, {"date": "2025-07-01", "price": 215.4}, {"date": "2025-07-04", "price": 222.6},
      {"date": "2025-07-05", "price": 223.2}, {"date": "2025-07-07", "price": 220.9}, {"date": "2025-07-09", "price": 219.6},
      {"date": "2025-07-11", "price": 224.7}, {"date": "2025-07-13", "price": 220.5}, {"date": "2025-07-16", "price": 218.8},
      {"date": "2025-07-17", "price": 223.8}, {"date": "2025-07-19", "price": 221.3}, {"date": "2025-07-21", "price": 221.1},
      {"date": "2025-07-23", "price": 223.7}, {"date": "2025-07-25", "price": 226.8}, {"date": "2025-07-26", "price": 224.0},
      {"date": "2025-07-29", "price": 224.0}, {"date": "2025-07-31", "price": 221.3}, {"date": "2025-08-03", "price": 214.7},
      {"date": "2025-08-05", "price": 218.8}, {"date": "2025-08-07", "price": 220.6}, {"date": "2025-08-09", "price": 219.8},
      {"date": "2025-08-12", "price": 219.8}, {"date": "2025-08-14", "price": 231.2}, {"date": "2025-08-16", "price": 227.6},
      {"date": "2025-08-18", "price": 228.0}, {"date": "2025-08-21", "price": 225.1}, {"date": "2025-08-23", "price": 225.9},
      {"date": "2025-08-24", "price": 234.7}, {"date": "2025-08-25", "price": 232.2}, {"date": "2025-08-27", "price": 234.7},
      {"date": "2025-08-29", "price": 236.0}, {"date": "2025-08-31", "price": 234.7}, {"date": "2025-09-04", "price": 233.5},
      {"date": "2025-09-06", "price": 237.3}, {"date": "2025-09-08", "price": 238.1}, {"date": "2025-09-10", "price": 238.3},
      {"date": "2025-09-11", "price": 236.3}, {"date": "2025-09-12", "price": 240.6}, {"date": "2025-09-14", "price": 238.3},
      {"date": "2025-09-18", "price": 238.8}, {"date": "2025-09-19", "price": 244.7}, {"date": "2025-09-21", "price": 243.2},
      {"date": "2025-09-23", "price": 244.4}, {"date": "2025-09-25", "price": 242.3}, {"date": "2025-09-26", "price": 239.1},
      {"date": "2025-09-29", "price": 241.3}, {"date": "2025-10-01", "price": 241.9}, {"date": "2025-10-03", "price": 242.7},
      {"date": "2025-10-04", "price": 245.7}, {"date": "2025-10-07", "price": 246.7}, {"date": "2025-10-09", "price": 244.2},
      {"date": "2025-10-11", "price": 237.7}, {"date": "2025-10-13", "price": 242.3}, {"date": "2025-10-16", "price": 250.3},
      {"date": "2025-10-18", "price": 243.6}, {"date": "2025-10-21", "price": 247.8}, {"date": "2025-10-23", "price": 243.2},
      {"date": "2025-10-25", "price": 246.9}, {"date": "2025-10-26", "price": 249.9}, {"date": "2025-10-28", "price": 250.3},
      {"date": "2025-10-30", "price": 244.8}, {"date": "2025-11-01", "price": 245.7}, {"date": "2025-11-03", "price": 245.0},
      {"date": "2025-11-05", "price": 243.6}, {"date": "2025-11-07", "price": 240.6}, {"date": "2025-11-08", "price": 241.5},
      {"date": "2025-11-10", "price": 243.2}, {"date": "2025-11-12", "price": 244.2}
    ]
  },
  "mark": {"type": "line", "color": "#000080", "strokeWidth": 4.5, "strokeJoin": "round", "clip": true},
  "encoding": {
    "x": {
      "field": "date",
      "type": "temporal",
      "scale": {
        "type": "utc",
        "domain": [
          {"year": 2020, "month": 1, "date": 1, "utc": true},
          {"year": 2025, "month": 11, "date": 12, "utc": true}
        ],
        "nice": false
      },
      "axis": {
        "title": null,
        "grid": false,
        "values": [
          {"year": 2020, "month": 1, "date": 1, "utc": true}, {"year": 2020, "month": 4, "date": 1, "utc": true},
          {"year": 2020, "month": 7, "date": 1, "utc": true}, {"year": 2020, "month": 10, "date": 1, "utc": true},
          {"year": 2021, "month": 1, "date": 1, "utc": true}, {"year": 2021, "month": 4, "date": 1, "utc": true},
          {"year": 2021, "month": 7, "date": 1, "utc": true}, {"year": 2021, "month": 10, "date": 1, "utc": true},
          {"year": 2022, "month": 1, "date": 1, "utc": true}, {"year": 2022, "month": 4, "date": 1, "utc": true},
          {"year": 2022, "month": 7, "date": 1, "utc": true}, {"year": 2022, "month": 10, "date": 1, "utc": true},
          {"year": 2023, "month": 1, "date": 1, "utc": true}, {"year": 2023, "month": 4, "date": 1, "utc": true},
          {"year": 2023, "month": 7, "date": 1, "utc": true}, {"year": 2023, "month": 10, "date": 1, "utc": true},
          {"year": 2024, "month": 1, "date": 1, "utc": true}, {"year": 2024, "month": 4, "date": 1, "utc": true},
          {"year": 2024, "month": 7, "date": 1, "utc": true}, {"year": 2024, "month": 10, "date": 1, "utc": true},
          {"year": 2025, "month": 1, "date": 1, "utc": true}, {"year": 2025, "month": 4, "date": 1, "utc": true},
          {"year": 2025, "month": 7, "date": 1, "utc": true}, {"year": 2025, "month": 10, "date": 1, "utc": true}
        ],
        "format": "%-m/%-d/%Y",
        "labelAngle": 270,
        "labelAlign": "right",
        "labelBaseline": "middle",
        "labelFont": "Liberation Sans",
        "labelFontSize": 42,
        "labelColor": "#000000",
        "labelPadding": 18,
        "labelLimit": 0,
        "labelOverlap": false,
        "labelBound": false,
        "labelFlush": false,
        "tickSize": 14,
        "tickWidth": 2,
        "tickColor": "#6a6a6a",
        "domainColor": "#000000",
        "domainWidth": 2
      }
    },
    "y": {
      "field": "price",
      "type": "quantitative",
      "scale": {"domain": [0, 300], "nice": false, "zero": true},
      "axis": {
        "title": null,
        "values": [0, 50, 100, 150, 200, 250, 300],
        "format": "$.2f",
        "grid": true,
        "gridColor": {"condition": {"test": "datum.value == 300", "value": "#808080"}, "value": "#2e2e2e"},
        "gridWidth": {"condition": {"test": "datum.value == 300", "value": 3}, "value": 1.5},
        "labelFont": "Liberation Sans",
        "labelFontSize": 44,
        "labelColor": "#000000",
        "labelPadding": 26,
        "labelLimit": 0,
        "tickSize": 14,
        "tickWidth": 2,
        "tickColor": "#6a6a6a",
        "domainColor": "#000000",
        "domainWidth": 2
      }
    }
  }
}
